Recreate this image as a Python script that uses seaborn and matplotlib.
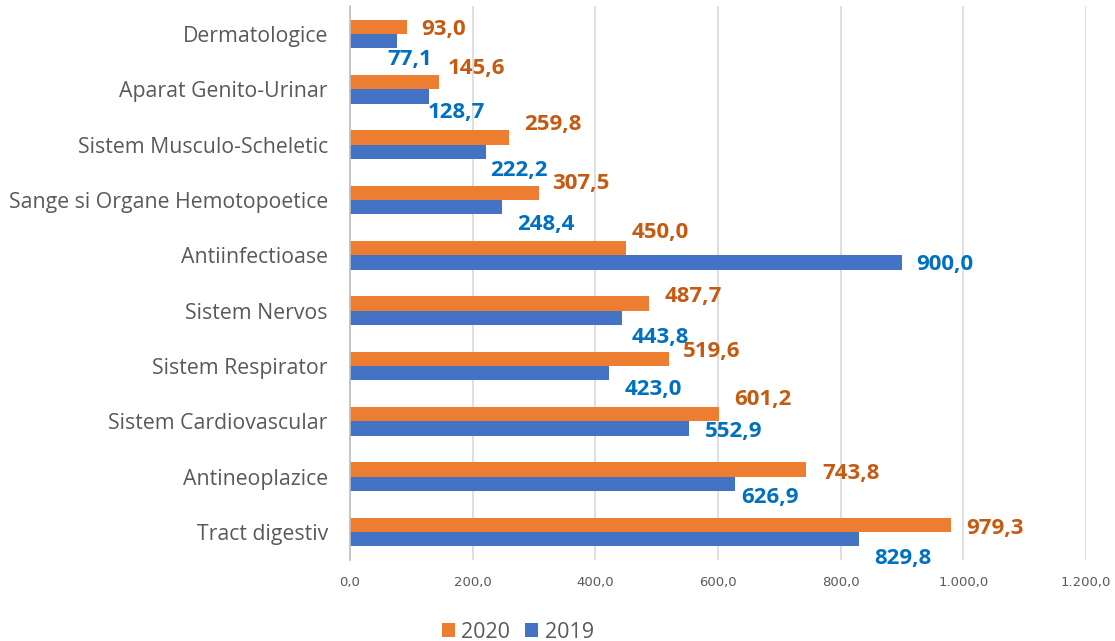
import matplotlib
matplotlib.use("Agg")
import matplotlib.pyplot as plt
from matplotlib.ticker import FuncFormatter
from matplotlib.patches import Patch
import seaborn as sns
import pandas as pd

categories = ["Dermatologice", "Aparat Genito-Urinar", "Sistem Musculo-Scheletic",
              "Sange si Organe Hemotopoetice", "Antiinfectioase", "Sistem Nervos",
              "Sistem Respirator", "Sistem Cardiovascular", "Antineoplazice", "Tract digestiv"]
values_2020 = [93.0, 145.6, 259.8, 307.5, 450.0, 487.7, 519.6, 601.2, 743.8, 979.3]
values_2019 = [77.1, 128.7, 222.2, 248.4, 900.0, 443.8, 423.0, 552.9, 626.9, 829.8]
series = ["2020", "2019"]
x_ticks = [0, 200, 400, 600, 800, 1000, 1200]

# label placement (pixel offsets from bar end / bar centre, layout only)
dx_2020 = [14, 8, 15, 14, 6, 15, 14, 16, 16, 16]
dy_2020 = [1, -16, -15, -11, -18, -9, -9, -17, 2, 2]
dx_2019 = [-10, -1, 4, 15, 14, 9, 15, 16, 7, 15]
dy_2019 = [16, 14, 17, 15, 0, 18, 14, 1, 12, 17]
dy_shift = 2  # text-box vs ink centre correction

df = pd.DataFrame({
    "cat": categories * 2,
    "val": values_2020 + values_2019,
    "year": [series[0]] * len(categories) + [series[1]] * len(categories),
})

colors = {"2020": "#ED7D31", "2019": "#4472C4"}
label_colors = {"2020": "#C55A11", "2019": "#0070C0"}

sns.set_theme(style="white")
plt.rcParams["font.family"] = ["Open Sans", "DejaVu Sans"]

fig = plt.figure(figsize=(11.15, 6.41), dpi=100)
ax = fig.add_axes([0.3139, 0.1268, 0.974 - 0.3139, 0.990 - 0.1268])

sns.barplot(data=df, x="val", y="cat", hue="year", hue_order=series, order=categories,
            palette=colors, orient="h", width=0.52, ax=ax, legend=False,
            saturation=1, errorbar=None, linewidth=0, edgecolor="none")

ax.set_xlim(0, 1200)
ax.set_ylim(len(categories) - 0.5, -0.5)
ax.set_xticks(x_ticks)
ax.xaxis.set_major_formatter(FuncFormatter(
    lambda v, p: f"{v:,.1f}".replace(",", "X").replace(".", ",").replace("X", ".")))
ax.set_xlabel("")
ax.set_ylabel("")
ax.grid(axis="x", color="#D9D9D9", linewidth=1.2)
ax.set_axisbelow(True)
for s in ["top", "right", "bottom"]:
    ax.spines[s].set_visible(False)
ax.spines["left"].set_color("#BFBFBF")
ax.spines["left"].set_linewidth(1.2)
ax.tick_params(axis="x", length=0, pad=12, labelcolor="#595959")
ax.tick_params(axis="y", length=0, pad=16, labelsize=15.3, labelcolor="#595959")
for t in ax.get_xticklabels():
    t.set_fontfamily(["Liberation Sans Narrow", "DejaVu Sans"])
    t.set_fontsize(9.5)

for cont, yr, vals, dxs, dys in [(ax.containers[0], "2020", values_2020, dx_2020, dy_2020),
                                  (ax.containers[1], "2019", values_2019, dx_2019, dy_2019)]:
    for bar, v, dx, dy in zip(cont, vals, dxs, dys):
        yc = bar.get_y() + bar.get_height() / 2
        ax.annotate(f"{v:.1f}".replace(".", ","), xy=(bar.get_width(), yc),
                    xytext=(dx, -(dy + dy_shift)), textcoords="offset pixels",
                    ha="left", va="center", fontsize=16, fontweight="bold",
                    color=label_colors[yr], annotation_clip=False)

handles = [Patch(facecolor=colors[s], edgecolor="none", label=s) for s in series]
fig.legend(handles=handles, loc="center", bbox_to_anchor=(0.4645, 0.0135), ncol=2,
           frameon=False, fontsize=15.5, handlelength=0.6, handleheight=0.6,
           handletextpad=0.3, columnspacing=0.7, labelcolor="#595959",
           borderpad=0)

fig.savefig("out.png", dpi=100)
